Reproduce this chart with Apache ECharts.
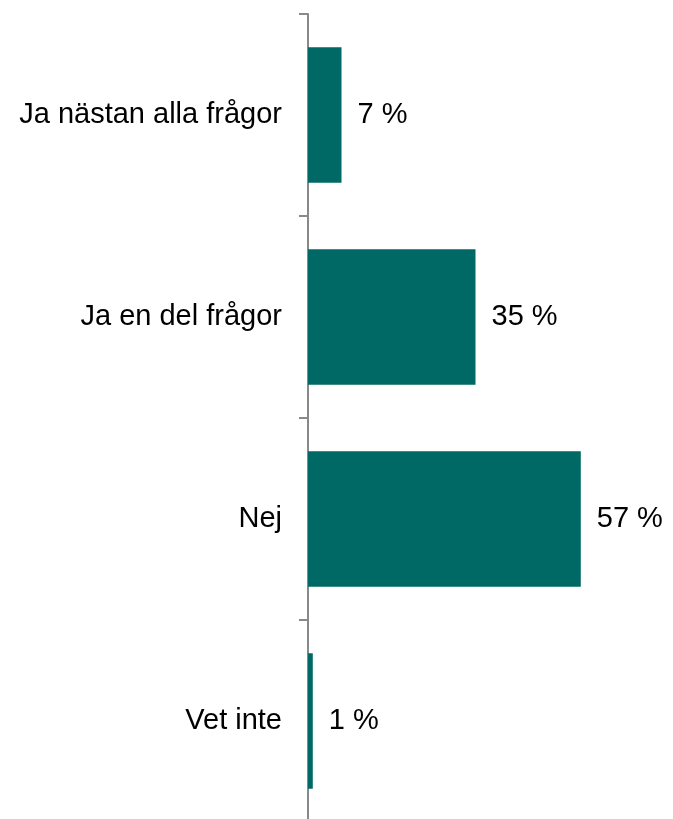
<!DOCTYPE html>
<html>
<head>
<meta charset="utf-8">
<script src="https://cdn.jsdelivr.net/npm/echarts@6/dist/echarts.min.js"></script>
<style>
  html, body { margin: 0; padding: 0; background: #fff; }
  #chart { width: 673px; height: 819px; }
</style>
</head>
<body>
<div id="chart"></div>
<script>
// kategorier och värden (procent)
const categories = ['Ja nästan alla frågor', 'Ja en del frågor', 'Nej', 'Vet inte'];
const values = [7, 35, 57, 1];

const chart = echarts.init(document.getElementById('chart'));
const option = {
  animation: false,
  grid: {
    left: 308,
    top: 14,
    width: 335,
    height: 808,
    outerBoundsMode: 'none'
  },
  xAxis: {
    type: 'value',
    min: 0,
    max: 70,
    show: false
  },
  yAxis: {
    type: 'category',
    inverse: true,
    data: categories,
    axisLine: { show: true, lineStyle: { color: '#898989', width: 2 } },
    axisTick: { show: true, length: 9, lineStyle: { color: '#898989', width: 2 } },
    axisLabel: {
      margin: 26,
      fontFamily: 'Liberation Sans',
      fontSize: 29,
      color: '#000'
    }
  },
  series: [
    {
      type: 'bar',
      data: values,
      barCategoryGap: '33%',
      itemStyle: { color: '#006966' },
      label: {
        show: true,
        position: 'right',
        distance: 16,
        fontFamily: 'Liberation Sans',
        fontSize: 29,
        color: '#000',
        formatter: p => p.value + ' %'
      }
    }
  ]
};
chart.setOption(option);
</script>
</body>
</html>
